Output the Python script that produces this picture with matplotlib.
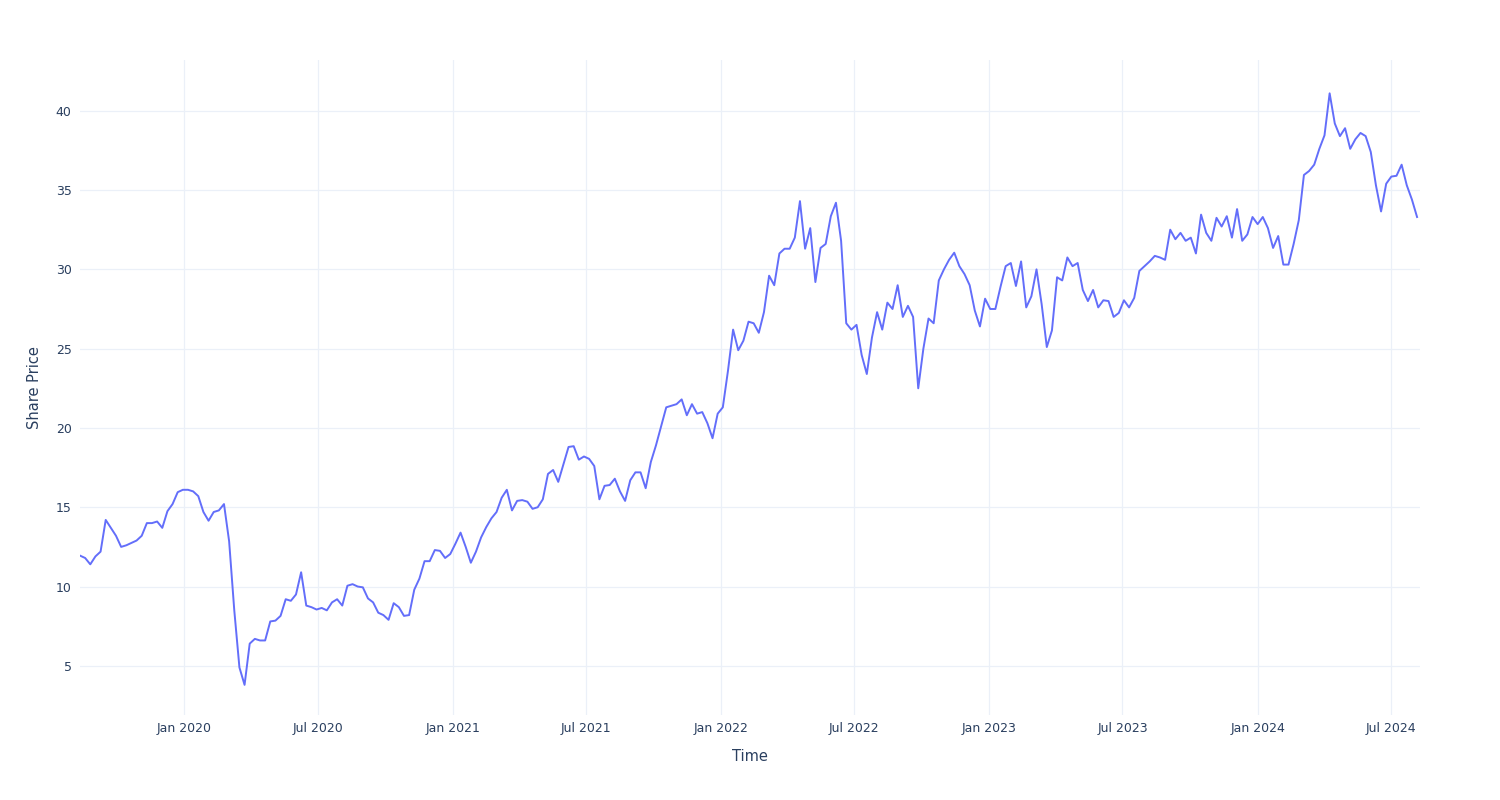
import pandas as pd
import matplotlib
matplotlib.use("Agg")
import matplotlib.pyplot as plt
import matplotlib.dates as mdates

# weekly closing share price, first week 2019-08-12
prices_2019 = [11.95, 11.8, 11.4, 11.9, 12.2, 14.2, 13.7, 13.2, 12.5, 12.6,
               12.75, 12.9, 13.2, 14.0, 14.0, 14.1, 13.7, 14.75, 15.2, 15.95, 16.1]
prices_2020 = [16.1, 16.0, 15.7, 14.7, 14.15, 14.7, 14.8, 15.2, 12.85, 8.5,
               4.9, 3.8, 6.4, 6.7, 6.6, 6.6, 7.8, 7.85, 8.15, 9.2,
               9.1, 9.5, 10.9, 8.8, 8.7, 8.55, 8.65, 8.5, 9.0, 9.2,
               8.8, 10.05, 10.15, 10.0, 9.95, 9.25, 9.0, 8.35, 8.2, 7.9,
               8.95, 8.7, 8.15, 8.2, 9.8, 10.5, 11.6, 11.6, 12.3, 12.25,
               11.8, 12.05]
prices_2021 = [12.7, 13.4, 12.5, 11.5, 12.2, 13.1, 13.75, 14.3, 14.7, 15.6,
               16.1, 14.8, 15.4, 15.45, 15.35, 14.9, 15.0, 15.5, 17.1, 17.35,
               16.6, 17.7, 18.8, 18.85, 18.0, 18.2, 18.05, 17.6, 15.5, 16.35,
               16.4, 16.8, 16.0, 15.4, 16.7, 17.2, 17.2, 16.2, 17.85, 18.9,
               20.1, 21.3, 21.4, 21.5, 21.8, 20.8, 21.5, 20.9, 21.0, 20.3,
               19.35, 20.9]
prices_2022 = [21.3, 23.6, 26.2, 24.9, 25.5, 26.7, 26.6, 26.0, 27.3, 29.6,
               29.0, 31.0, 31.3, 31.3, 32.0, 34.3, 31.3, 32.6, 29.2, 31.35,
               31.6, 33.35, 34.2, 31.8, 26.6, 26.2, 26.5, 24.6, 23.4, 25.7,
               27.3, 26.2, 27.9, 27.5, 29.0, 27.0, 27.7, 27.0, 22.5, 25.0,
               26.9, 26.6, 29.3, 30.0, 30.6, 31.05, 30.2, 29.7, 29.0, 27.4,
               26.4, 28.15]
prices_2023 = [27.5, 27.5, 28.9, 30.2, 30.4, 28.95, 30.5, 27.6, 28.3, 30.0,
               27.8, 25.1, 26.15, 29.5, 29.3, 30.75, 30.2, 30.4, 28.7, 28.0,
               28.7, 27.6, 28.05, 28.0, 27.0, 27.25, 28.05, 27.6, 28.2, 29.9,
               30.2, 30.5, 30.85, 30.75, 30.6, 32.5, 31.9, 32.3, 31.8, 32.0,
               31.0, 33.45, 32.3, 31.8, 33.25, 32.7, 33.35, 32.0, 33.8, 31.8,
               32.2, 33.3]
prices_2024 = [32.85, 33.3, 32.6, 31.35, 32.1, 30.3, 30.3, 31.6, 33.1, 35.95,
               36.2, 36.6, 37.6, 38.45, 41.1, 39.2, 38.4, 38.9, 37.6, 38.2,
               38.6, 38.4, 37.4, 35.3, 33.65, 35.4, 35.85, 35.9, 36.6, 35.3,
               34.4, 33.3]

prices = prices_2019 + prices_2020 + prices_2021 + prices_2022 + prices_2023 + prices_2024
dates = pd.date_range("2019-08-12", periods=len(prices), freq="7D")
y_ticks = [5, 10, 15, 20, 25, 30, 35, 40]

TEXT = "#2a3f5f"
GRID = "#ebf0f8"
LINE = "#636efa"

plt.rcParams["font.family"] = ["DejaVu Sans"]

fig = plt.figure(figsize=(15, 8), dpi=100)
ax = fig.add_axes([80 / 1500, 85 / 800, 1340 / 1500, 655 / 800])

ax.plot(dates, prices, color=LINE, linewidth=1.4, zorder=3)

ax.set_xlim(dates[0], pd.Timestamp("2024-08-09"))
ax.set_ylim(1.9, 43.2)
ax.set_yticks(y_ticks)
ax.xaxis.set_major_locator(mdates.MonthLocator(bymonth=[1, 7]))
ax.xaxis.set_major_formatter(mdates.DateFormatter("%b %Y"))

ax.grid(True, color=GRID, linewidth=0.9, zorder=0)
for s in ax.spines.values():
    s.set_visible(False)
ax.tick_params(axis="both", length=0, labelsize=9, labelcolor=TEXT)
ax.tick_params(axis="x", pad=5)
ax.tick_params(axis="y", pad=6)

ax.set_xlabel("Time", fontsize=10.5, color=TEXT, labelpad=10)
ax.set_ylabel("Share Price", fontsize=10.5, color=TEXT, labelpad=10)

fig.savefig("out.png", dpi=100, facecolor="white")
